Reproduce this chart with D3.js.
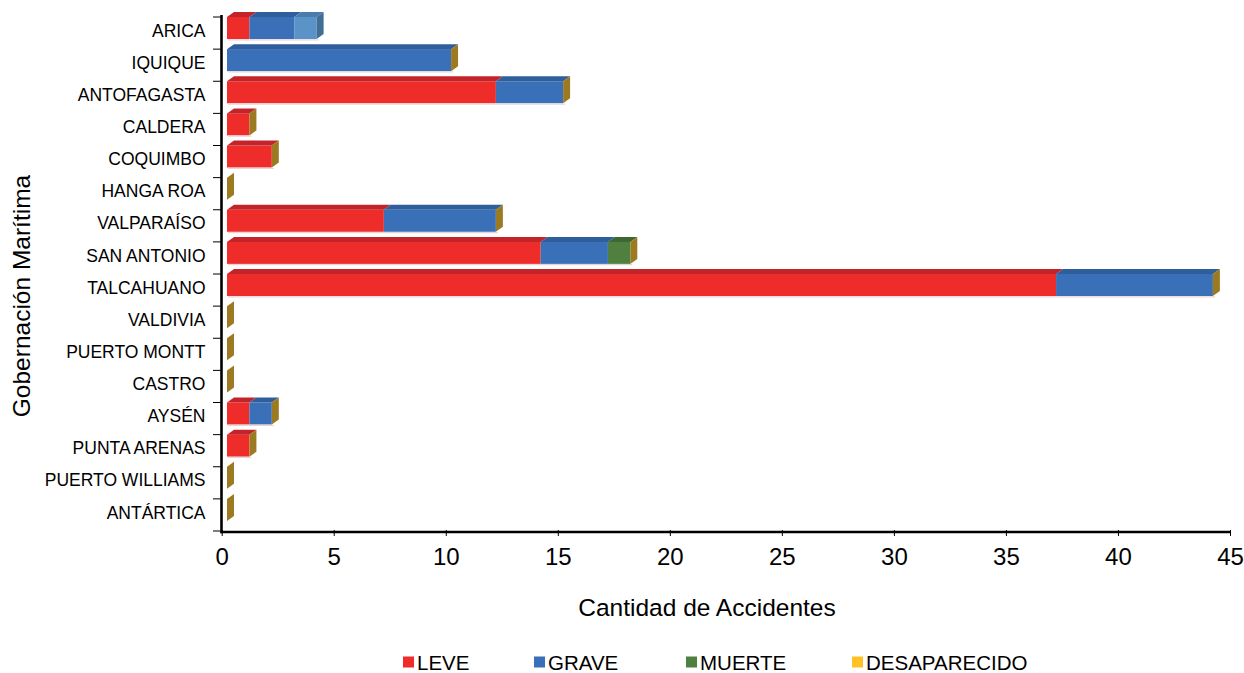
<!DOCTYPE html>
<html>
<head>
<meta charset="utf-8">
<script src="https://cdn.jsdelivr.net/npm/d3@7"></script>
<style>
  html, body { margin: 0; padding: 0; background: #fff; }
  svg { display: block; font-family: "Liberation Sans", Arial, sans-serif; }
</style>
</head>
<body>
<svg id="chart" width="1244" height="673"></svg>
<script>
// ---- data ----
const categories = ["ARICA","IQUIQUE","ANTOFAGASTA","CALDERA","COQUIMBO","HANGA ROA","VALPARAÍSO","SAN ANTONIO","TALCAHUANO","VALDIVIA","PUERTO MONTT","CASTRO","AYSÉN","PUNTA ARENAS","PUERTO WILLIAMS","ANTÁRTICA"];
const leve         = [1, 0, 12, 1, 2, 0, 7, 14, 37, 0, 0, 0, 1, 1, 0, 0];
const grave        = [2, 10, 3, 0, 0, 0, 5, 3, 7, 0, 0, 0, 1, 0, 0, 0];
const muerte       = [0, 0, 0, 0, 0, 0, 0, 1, 0, 0, 0, 0, 0, 0, 0, 0];
const desaparecido = [0, 0, 0, 0, 0, 0, 0, 0, 0, 0, 0, 0, 0, 0, 0, 0];
const otro         = [1, 0, 0, 0, 0, 0, 0, 0, 0, 0, 0, 0, 0, 0, 0, 0]; // light-blue segment (not in legend)
const xTicks = [0, 5, 10, 15, 20, 25, 30, 35, 40, 45];
const seriesNames = ["LEVE", "GRAVE", "MUERTE", "DESAPARECIDO"];

const seriesKeys = ["leve", "grave", "muerte", "desaparecido", "otro"];
const styles = {
  leve:         { front: "#EE2D2B", top: "#C2242A", side: "#A81E22" },
  grave:        { front: "#3A70B7", top: "#2F5E9C", side: "#2A5288" },
  muerte:       { front: "#4F8040", top: "#3E6833", side: "#355A2B" },
  desaparecido: { front: "#FFC125", top: "#D9A21C", side: "#9C7A22" },
  otro:         { front: "#5A93C8", top: "#4A7BAA", side: "#416E96" }
};

const rows = categories.map((c, i) => ({
  cat: c, leve: leve[i], grave: grave[i], muerte: muerte[i],
  desaparecido: desaparecido[i], otro: otro[i]
}));

// ---- layout ----
const svg = d3.select("#chart");
const x = d3.scaleLinear().domain([0, 45]).range([221.7, 1230]);
const y = d3.scaleBand().domain(categories).range([17, 531]).paddingInner(0).paddingOuter(0);
const frontOff = 5.3;   // front face offset from back wall
const dx = 7, dy = 5;   // 3D depth
const barH = 22;

const stacked = d3.stack().keys(seriesKeys)(rows);

const g = svg.append("g");

categories.forEach((cat, ci) => {
  const y0 = y(cat);
  let total = 0;
  stacked.forEach((layer, li) => {
    const key = seriesKeys[li];
    const d = layer[ci];
    const v0 = d[0], v1 = d[1];
    total = Math.max(total, v1);
    if (v1 - v0 <= 0) return;
    const xa = x(v0) + frontOff, xb = x(v1) + frontOff;
    const st = styles[key];
    g.append("rect").attr("x", xa).attr("y", y0).attr("width", xb - xa).attr("height", barH)
      .attr("fill", st.front);
    g.append("path")
      .attr("d", `M${xa},${y0}L${xa + dx},${y0 - dy}L${xb + dx},${y0 - dy}L${xb},${y0}Z`)
      .attr("fill", st.top);
  });
  // end side face
  let sideKey = "desaparecido";
  seriesKeys.forEach((k, li) => { if (rows[ci][k] > 0 && li > 3) sideKey = k; });
  const xe = x(total) + frontOff;
  g.append("path")
    .attr("d", `M${xe},${y0}L${xe + dx},${y0 - dy}L${xe + dx},${y0 - dy + barH}L${xe},${y0 + barH}Z`)
    .attr("fill", styles[sideKey].side);
  // faint shadow line under bar
  if (total > 0) {
    g.append("line").attr("x1", x(0) + frontOff + 1).attr("x2", xe + 2)
      .attr("y1", y0 + barH + 0.8).attr("y2", y0 + barH + 0.8)
      .attr("stroke", "#e7d5d5").attr("stroke-width", 1.2);
  }
});

// ---- axes ----
const axisY = 532;
const xAxis = d3.axisBottom(x).tickValues(xTicks).tickSizeInner(6).tickSizeOuter(0).tickPadding(12);
const gx = svg.append("g").attr("transform", `translate(0,${axisY - 2})`).call(xAxis);
gx.select(".domain").remove();
gx.selectAll(".tick line").attr("stroke", "#000").attr("stroke-width", 1);
gx.selectAll(".tick text").attr("font-size", 24).attr("fill", "#000")
  .attr("font-family", "'Liberation Sans', Arial, sans-serif");

svg.append("line").attr("x1", 220.5).attr("x2", 1231).attr("y1", axisY).attr("y2", axisY)
  .attr("stroke", "#000").attr("stroke-width", 2.6);

const yAxis = d3.axisLeft(y).tickSize(0).tickPadding(16);
const gy = svg.append("g").attr("transform", `translate(221.5,-2)`).call(yAxis);
gy.select(".domain").remove();
gy.selectAll(".tick text").attr("font-size", 17.5).attr("fill", "#000")
  .attr("font-family", "'Liberation Sans', Arial, sans-serif");

// y tick marks at band boundaries
const bounds = categories.map(c => y(c)).concat([y.range()[1]]);
svg.append("g").selectAll("line").data(bounds).join("line")
  .attr("x1", 213).attr("x2", 221.5).attr("y1", d => d).attr("y2", d => d)
  .attr("stroke", "#000").attr("stroke-width", 1);

svg.append("line").attr("x1", 221.5).attr("x2", 221.5).attr("y1", 15).attr("y2", axisY + 1.3)
  .attr("stroke", "#000").attr("stroke-width", 2.6);

// ---- titles ----
svg.append("text").attr("x", 707).attr("y", 616).attr("text-anchor", "middle")
  .attr("font-size", 24.5).attr("fill", "#000").text("Cantidad de Accidentes");
svg.append("text").attr("transform", "translate(30,296) rotate(-90)").attr("text-anchor", "middle")
  .attr("font-size", 24.5).attr("fill", "#000").text("Gobernación Marítima");

// ---- legend ----
const legendX = [403, 534, 686, 852];
const lg = svg.append("g").selectAll("g").data(seriesNames).join("g")
  .attr("transform", (d, i) => `translate(${legendX[i]},662)`);
lg.append("rect").attr("x", 0).attr("y", -5.5).attr("width", 11).attr("height", 11)
  .attr("fill", (d, i) => styles[seriesKeys[i]].front);
lg.append("text").attr("x", 14).attr("y", 7.5).attr("font-size", 20.5).attr("fill", "#000")
  .text(d => d);
</script>
</body>
</html>
